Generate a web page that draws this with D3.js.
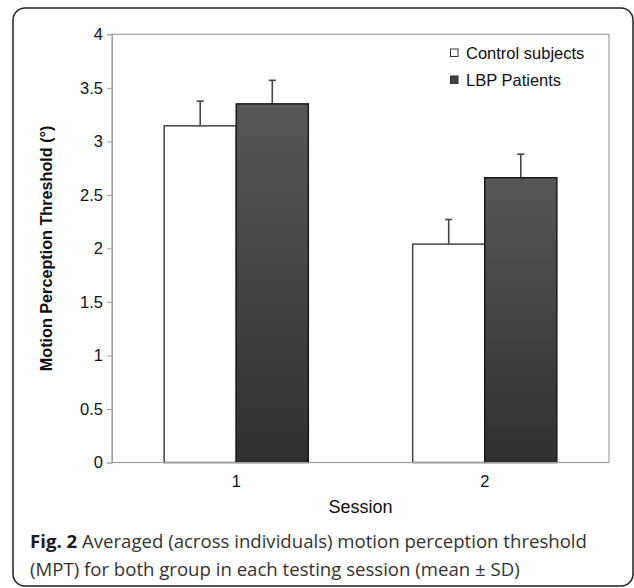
<!DOCTYPE html>
<html><head><meta charset="utf-8">
<script src="https://cdn.jsdelivr.net/npm/d3@7"></script>
<style>body{margin:0;background:#fff}svg{display:block}</style>
</head><body>
<svg id="c" width="634" height="588"></svg>
<script>
const sessions = ["1", "2"];
const seriesNames = ["Control subjects", "LBP Patients"];
const controlMeans = [3.145, 2.04];
const controlSD = [0.23, 0.23];
const lbpMeans = [3.35, 2.66];
const lbpSD = [0.22, 0.22];
const yTicks = [0, 0.5, 1, 1.5, 2, 2.5, 3, 3.5, 4];
const tickLabels = ["0", "0.5", "1", "1.5", "2", "2.5", "3", "3.5", "4"];

const svg = d3.select("#c");
const defs = svg.append("defs");
const g1 = defs.append("linearGradient").attr("id","dk").attr("x1",0).attr("y1",0).attr("x2",0).attr("y2",1);
g1.append("stop").attr("offset","0%").attr("stop-color","#575757");
g1.append("stop").attr("offset","100%").attr("stop-color","#303030");

// outer frame
svg.append("rect").attr("x",13).attr("y",8).attr("width",620).attr("height",578)
  .attr("rx",12).attr("fill","none").attr("stroke","#222").attr("stroke-width",1.5);

const L = 112, R = 609, T = 34.3, B = 462.5;
const x = d3.scaleBand().domain(sessions).range([L, R]).paddingInner(0.42).paddingOuter(0.21);
const xs = d3.scaleBand().domain(seriesNames).range([0, x.bandwidth()]);
const y = d3.scaleLinear().domain([0, 4]).range([B, T]);
const FF = "Liberation Sans, Arial, sans-serif";

// plot frame
svg.append("rect").attr("x",L).attr("y",T).attr("width",R-L).attr("height",B-T)
  .attr("fill","#fff").attr("stroke","#a0a0a0").attr("stroke-width",1.2);

// y axis
const ya = d3.axisLeft(y).tickValues(yTicks).tickFormat((d,i)=>tickLabels[i]).tickSize(5).tickPadding(4);
const gy = svg.append("g").attr("transform",`translate(${L},0)`).call(ya);
gy.attr("font-size",null).attr("font-family",null);
gy.select(".domain").attr("stroke","#a0a0a0");
gy.selectAll(".tick line").attr("stroke","#a0a0a0");
gy.selectAll("text").attr("font-family",FF).attr("font-size",16.5).attr("fill","#111");

// x axis labels
const xa = d3.axisBottom(x).tickSize(0).tickPadding(13);
const gx = svg.append("g").attr("transform",`translate(0,${B})`).call(xa);
gx.attr("font-size",null).attr("font-family",null);
gx.select(".domain").remove();
gx.selectAll("text").attr("font-family",FF).attr("font-size",16.5).attr("fill","#111");

const data = [];
sessions.forEach((s,i)=>{
  data.push({s, k:seriesNames[0], v:controlMeans[i], sd:controlSD[i]});
  data.push({s, k:seriesNames[1], v:lbpMeans[i], sd:lbpSD[i]});
});

// error bars (upper only)
const eb = svg.append("g");
data.forEach(d=>{
  const cx = x(d.s)+xs(d.k)+xs.bandwidth()/2;
  eb.append("line").attr("x1",cx).attr("x2",cx).attr("y1",y(d.v)).attr("y2",y(d.v+d.sd))
    .attr("stroke","#444").attr("stroke-width",1.6);
  eb.append("line").attr("x1",cx-3.5).attr("x2",cx+3.5).attr("y1",y(d.v+d.sd)).attr("y2",y(d.v+d.sd))
    .attr("stroke","#444").attr("stroke-width",1.6);
});

svg.append("g").selectAll("rect").data(data).join("rect")
  .attr("x",d=>x(d.s)+xs(d.k)).attr("width",xs.bandwidth())
  .attr("y",d=>y(d.v)).attr("height",d=>B-y(d.v))
  .attr("fill",d=>d.k===seriesNames[0]?"#fff":"url(#dk)")
  .attr("stroke",d=>d.k===seriesNames[0]?"#444":"#1a1a1a")
  .attr("stroke-width",1.5);

svg.append("line").attr("x1",L).attr("x2",R).attr("y1",B).attr("y2",B).attr("stroke","#a0a0a0").attr("stroke-width",1.2);

// legend
const lg = svg.append("g");
seriesNames.forEach((n,i)=>{
  const yy = 53 + i*27;
  lg.append("rect").attr("x",450.5).attr("y",yy-4).attr("width",7.5).attr("height",7.5)
    .attr("fill",i===0?"#fff":"#444").attr("stroke","#333").attr("stroke-width",1);
  lg.append("text").attr("x",466).attr("y",yy+6).text(n)
    .attr("font-family",FF).attr("font-size",16.5).attr("fill","#111");
});

// axis titles
svg.append("text").attr("x",(L+R)/2).attr("y",513).attr("text-anchor","middle").text("Session")
  .attr("font-family",FF).attr("font-size",18).attr("fill","#111");
svg.append("text").attr("transform",`translate(52,${(T+B)/2}) rotate(-90)`).attr("text-anchor","middle")
  .text("Motion Perception Threshold (°)")
  .attr("font-family",FF).attr("font-size",16.2).attr("font-weight","bold").attr("fill","#111");

// caption
const cap = svg.append("text").attr("font-family","Open Sans, sans-serif").attr("font-size",18.6).attr("fill","#333");
const l1 = cap.append("tspan").attr("x",30).attr("y",548);
l1.append("tspan").attr("font-weight","bold").attr("fill","#1a1a1a").text("Fig. 2");
l1.append("tspan").text(" Averaged (across individuals) motion perception threshold");
cap.append("tspan").attr("x",30).attr("y",576).text("(MPT) for both group in each testing session (mean ± SD)");
</script>
</body></html>
